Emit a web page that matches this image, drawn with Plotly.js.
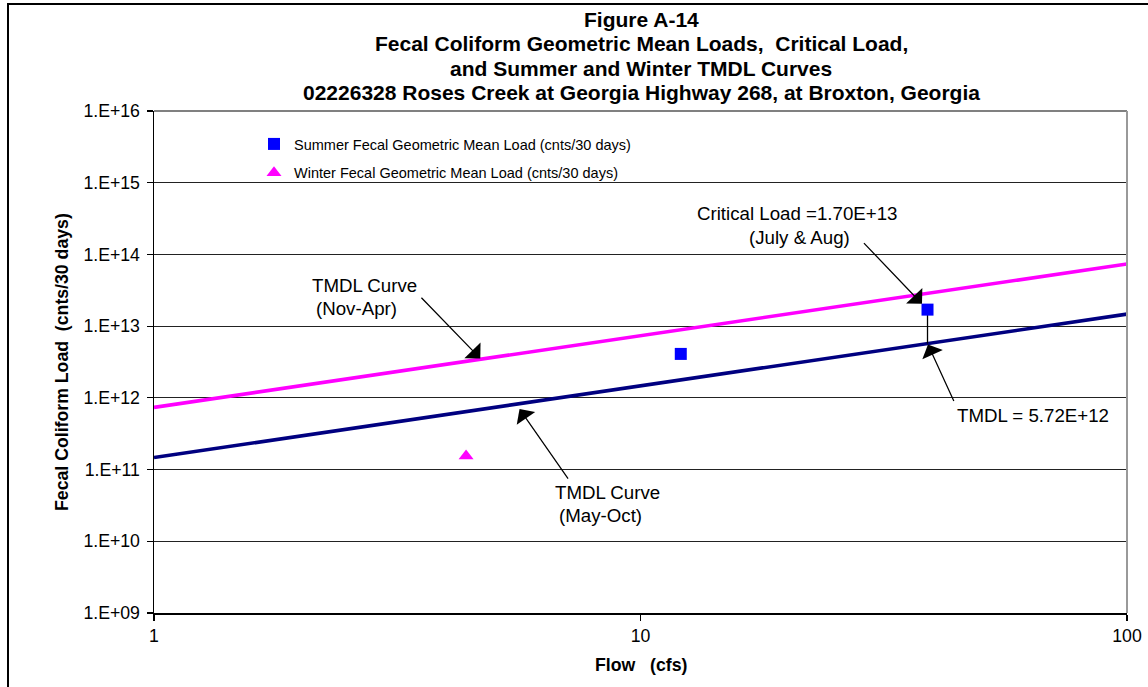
<!DOCTYPE html>
<html><head><meta charset="utf-8">
<script src="https://cdn.plot.ly/plotly-3.0.1.min.js"></script>
<style>
html,body{margin:0;padding:0;background:#fff;overflow:hidden;}
#chart{position:absolute;left:0;top:0;width:1148px;height:687px;}
#frame{position:absolute;left:7px;top:3px;width:1300px;height:900px;border-left:2px solid #000;border-top:2px solid #000;pointer-events:none;}
</style></head><body>
<div id="chart"></div><div id="frame"></div>
<script>
// ---- data ----
const summerFlow = [12.1, 38.9];
const summerLoad = [4.1e12, 1.70e13];
const winterFlow = [4.38];
const winterLoad = [1.55e11];
const curveFlow = [1, 100];
const summerTMDL = [1.47e11, 1.47e13];
const winterTMDL = [7.36e11, 7.36e13];
const criticalFlow = 38.9;
const criticalLoad = 1.70e13;
const tmdlAtCritical = 5.72e12;
const yTickVals = [1e9, 1e10, 1e11, 1e12, 1e13, 1e14, 1e15, 1e16];
const yTickText = ['1.E+09', '1.E+10', '1.E+11', '1.E+12', '1.E+13', '1.E+14', '1.E+15', '1.E+16'];
const xTickVals = [1, 10, 100];
const xTickText = ['1', '10', '100'];
const titleLines = [
  'Figure A-14',
  'Fecal Coliform Geometric Mean Loads,  Critical Load,',
  'and Summer and Winter TMDL Curves',
  '02226328 Roses Creek at Georgia Highway 268, at Broxton, Georgia'
];

const F = 'Liberation Sans, Arial, sans-serif';
const L = 154, R = 21, T = 111, B = 74, W = 1148, H = 687;
const PW = W - L - R, PH = H - T - B;
const px = v => (v - L) / PW;
const py = v => (H - B - v) / PH;
const lg = Math.log10;
const slopeS = lg(summerTMDL[1] / summerTMDL[0]) / lg(curveFlow[1] / curveFlow[0]);
const slopeW = lg(winterTMDL[1] / winterTMDL[0]) / lg(curveFlow[1] / curveFlow[0]);
const summerAt = q => summerTMDL[0] * Math.pow(q / curveFlow[0], slopeS);
const winterAt = q => winterTMDL[0] * Math.pow(q / curveFlow[0], slopeW);

const traces = [
  {x: curveFlow, y: winterTMDL, mode: 'lines', line: {color: '#FF00FF', width: 3.6}, showlegend: false, name: 'TMDL Curve (Nov-Apr)'},
  {x: curveFlow, y: summerTMDL, mode: 'lines', line: {color: '#000080', width: 3.6}, showlegend: false, name: 'TMDL Curve (May-Oct)'},
  {x: [criticalFlow, criticalFlow], y: [criticalLoad, tmdlAtCritical], mode: 'lines', line: {color: '#000', width: 1.3}, showlegend: false},
  {x: summerFlow, y: summerLoad, mode: 'markers', name: 'Summer Fecal Geometric Mean Load (cnts/30 days)',
   marker: {symbol: 'square', color: '#0000FF', size: 12}, legendgroup: 'a'},
  {x: winterFlow, y: winterLoad, mode: 'markers', name: 'Winter Fecal Geometric Mean Load (cnts/30 days)',
   marker: {symbol: 'triangle-up', color: '#FF00FF', size: 13}, legendgroup: 'b'}
];

const ann = [];
const titleY = [20, 44, 68, 92];
titleLines.forEach((t, i) => ann.push({xref: 'paper', yref: 'paper', x: px(641), y: py(titleY[i]), text: '<b>' + t + '</b>',
  showarrow: false, xanchor: 'center', yanchor: 'middle', font: {size: 21, family: F}}));
function txt(t, x, y) {
  ann.push({xref: 'paper', yref: 'paper', x: px(x), y: py(y), text: t, showarrow: false, xanchor: 'center', yanchor: 'middle', font: {size: 18.7, family: F}});
}
txt('Critical Load =1.70E+13', 797, 213);
txt('(July &amp; Aug)', 799, 237);
txt('TMDL Curve', 364, 285);
txt('(Nov-Apr)', 356, 308);
txt('TMDL Curve', 607, 492);
txt('(May-Oct)', 600, 515);
txt('TMDL = 5.72E+12', 1033, 415);
function arrow(q, load, ax, ay, standoff) {
  ann.push({xref: 'x', yref: 'y', x: lg(q), y: lg(load), ax: ax, ay: ay, text: '', showarrow: true,
    arrowhead: 1, arrowsize: 3, arrowwidth: 1.25, arrowcolor: '#000', standoff: standoff || 0});
}
arrow(criticalFlow, criticalLoad, -65, -68, 8);
arrow(4.7, winterAt(4.7), -61, -63, 1);
arrow(5.55, summerAt(5.55), 53, 76, 6);
arrow(criticalFlow, tmdlAtCritical, 27, 59, 1);
// axis titles
ann.push({xref: 'paper', yref: 'paper', x: px(62), y: py(362), text: '<b>Fecal Coliform Load  (cnts/30 days)</b>', textangle: -90,
  showarrow: false, xanchor: 'center', yanchor: 'middle', font: {size: 17.7, family: F}});
ann.push({xref: 'paper', yref: 'paper', x: px(641), y: py(665), text: '<b>Flow   (cfs)</b>',
  showarrow: false, xanchor: 'center', yanchor: 'middle', font: {size: 17.7, family: F}});

const layout = {
  width: W, height: H,
  margin: {l: L, r: R, t: T, b: B, pad: 0},
  paper_bgcolor: '#fff', plot_bgcolor: '#fff',
  font: {family: F, color: '#000'},
  hovermode: false,
  showlegend: true,
  legend: {x: px(254), xanchor: 'left', y: py(128), yanchor: 'top', bgcolor: 'rgba(0,0,0,0)', borderwidth: 0,
    font: {size: 14.5, family: F}, traceorder: 'grouped', tracegroupgap: 7},
  xaxis: {type: 'log', range: [0, 2], tickvals: xTickVals, ticktext: xTickText, ticks: 'outside', ticklen: 6, tickwidth: 1.2,
    tickcolor: '#000', showgrid: false, showline: true, linecolor: '#000', linewidth: 1.5, zeroline: false,
    tickfont: {size: 17.7, family: F}},
  yaxis: {type: 'log', range: [9, 16], tickvals: yTickVals, ticktext: yTickText, ticks: 'outside', ticklen: 6, tickwidth: 1.2,
    tickcolor: '#000', showgrid: true, gridcolor: '#222', gridwidth: 1, showline: true, linecolor: '#000', linewidth: 1.5,
    zeroline: false, tickfont: {size: 17.7, family: F}, ticklabelstandoff: 3},
  shapes: [
    {type: 'line', xref: 'paper', yref: 'paper', x0: 0, x1: 1, y0: 1, y1: 1, line: {color: '#808080', width: 2}, layer: 'above'},
    {type: 'line', xref: 'paper', yref: 'paper', x0: 1, x1: 1, y0: 0, y1: 1, line: {color: '#999', width: 2}, layer: 'above'}
  ],
  annotations: ann
};
Plotly.newPlot('chart', traces, layout, {staticPlot: true, displayModeBar: false});
</script>
</body></html>
